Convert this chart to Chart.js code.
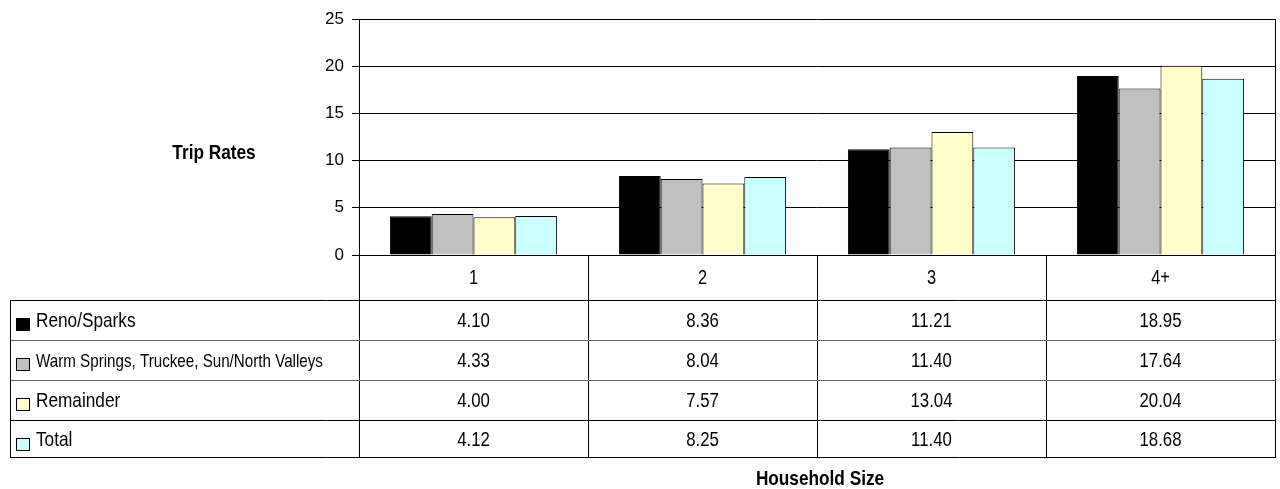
<!DOCTYPE html>
<html>
<head>
<meta charset="utf-8">
<script src="https://cdn.jsdelivr.net/npm/chart.js@4/dist/chart.umd.min.js"></script>
<style>
    html, body { margin: 0; padding: 0; background: #ffffff; }
    #wrap { width: 1280px; height: 489px; position: relative; }
</style>
</head>
<body>
<div id="wrap"><canvas id="tripChart"></canvas></div>
<script>
// Data trip rate per ukuran rumah tangga
const categories = ['1', '2', '3', '4+'];
const seriesNames = ['Reno/Sparks', 'Warm Springs, Truckee, Sun/North Valleys', 'Remainder', 'Total'];
const renoSparks = [4.10, 8.36, 11.21, 18.95];
const warmSprings = [4.33, 8.04, 11.40, 17.64];
const remainder = [4.00, 7.57, 13.04, 20.04];
const total = [4.12, 8.25, 11.40, 18.68];
const yTicks = [0, 5, 10, 15, 20, 25];

const seriesValues = [renoSparks, warmSprings, remainder, total];
const seriesColors = ['#000000', '#c0c0c0', '#ffffcc', '#ccffff'];

const FONT = "'Liberation Sans', Arial, sans-serif";
const NARROW = 0.82; // tidak ada Arial Narrow, jadi teks dipadatkan secara horizontal

// Baris tabel data di bawah chart
const table = {
    left: 10,
    headerBottom: 300,
    rowHeight: 40,
    bottom: 457
};

// Gambar teks dengan lebar dipadatkan (meniru font narrow)
function narrowText(ctx, text, x, y, align) {
    ctx.save();
    ctx.translate(x, y);
    ctx.scale(NARROW, 1);
    ctx.textAlign = align;
    ctx.textBaseline = 'alphabetic';
    ctx.fillText(text, 0, 0);
    ctx.restore();
}

// Plugin untuk menggambar tabel data, border kanan dan judul sumbu
const dataTablePlugin = {
    id: 'dataTable',
    afterDraw(chart) {
        const ctx = chart.ctx;
        const area = chart.chartArea;
        const xScale = chart.scales.x;
        const half = (xScale.getPixelForValue(1) - xScale.getPixelForValue(0)) / 2;

        ctx.save();
        ctx.strokeStyle = '#000000';
        ctx.lineWidth = 1;

        // border kanan plot
        ctx.beginPath();
        ctx.moveTo(area.right + 0.5, area.top);
        ctx.lineTo(area.right + 0.5, area.bottom);
        ctx.stroke();

        // garis vertikal kategori
        const bounds = [];
        for (let i = 0; i < categories.length; i++) {
            bounds.push(xScale.getPixelForValue(i) - half);
        }
        bounds.push(xScale.getPixelForValue(categories.length - 1) + half);
        bounds.forEach(function(x) {
            ctx.beginPath();
            ctx.moveTo(Math.round(x) + 0.5, area.bottom);
            ctx.lineTo(Math.round(x) + 0.5, table.bottom);
            ctx.stroke();
        });

        // garis horizontal tabel
        const rows = [table.headerBottom];
        for (let r = 1; r < seriesNames.length; r++) {
            rows.push(table.headerBottom + r * table.rowHeight);
        }
        rows.push(table.bottom);
        rows.forEach(function(y, idx) {
            ctx.strokeStyle = (idx === 1 || idx === 2) ? '#666666' : '#000000';
            ctx.beginPath();
            ctx.moveTo(table.left, y + 0.5);
            ctx.lineTo(Math.round(area.right) + 1, y + 0.5);
            ctx.stroke();
        });
        ctx.strokeStyle = '#000000';
        ctx.beginPath();
        ctx.moveTo(table.left + 0.5, table.headerBottom);
        ctx.lineTo(table.left + 0.5, table.bottom);
        ctx.stroke();

        // label kategori
        ctx.fillStyle = '#000000';
        ctx.font = '20px ' + FONT;
        categories.forEach(function(c, i) {
            narrowText(ctx, c, xScale.getPixelForValue(i), area.bottom + 29, 'center');
        });

        // isi tabel
        seriesNames.forEach(function(name, s) {
            const top = table.headerBottom + s * table.rowHeight;
            const rowH = (s === seriesNames.length - 1) ? (table.bottom - top) : table.rowHeight;
            const base = top + Math.round(rowH / 2) + 7;

            // kotak legenda
            ctx.fillStyle = seriesColors[s];
            ctx.fillRect(16, top + 18, 14, 13);
            ctx.strokeStyle = '#000000';
            ctx.strokeRect(16.5, top + 18.5, 13, 12);

            ctx.fillStyle = '#000000';
            ctx.font = (s === 1 ? '18.5px ' : '21px ') + FONT;
            narrowText(ctx, name, 36, base, 'left');

            ctx.font = '20.5px ' + FONT;
            seriesValues[s].forEach(function(v, i) {
                narrowText(ctx, v.toFixed(2), xScale.getPixelForValue(i), base, 'center');
            });
        });

        // judul sumbu
        ctx.font = 'bold 21px ' + FONT;
        narrowText(ctx, 'Trip Rates', 214, 159, 'center');
        narrowText(ctx, 'Household Size', 820, 485, 'center');

        ctx.restore();
    }
};

function initTripChart() {
    const ctx = document.getElementById('tripChart').getContext('2d');
    return new Chart(ctx, {
        type: 'bar',
        data: {
            labels: categories,
            datasets: seriesNames.map(function(name, s) {
                return {
                    label: name,
                    data: seriesValues[s],
                    backgroundColor: seriesColors[s],
                    borderColor: '#000000',
                    borderWidth: 1,
                    categoryPercentage: 0.73,
                    barPercentage: 1.0
                };
            })
        },
        options: {
            responsive: true,
            maintainAspectRatio: false,
            animation: false,
            layout: {
                padding: { left: 0, right: 5, top: 19, bottom: 234 }
            },
            plugins: {
                legend: { display: false },
                tooltip: { enabled: false }
            },
            scales: {
                x: {
                    display: false
                },
                y: {
                    min: 0,
                    max: 25,
                    afterBuildTicks: function(scale) {
                        scale.ticks = yTicks.map(function(v) { return { value: v }; });
                    },
                    afterFit: function(scale) {
                        scale.width = 359;
                    },
                    ticks: {
                        color: '#000000',
                        padding: 8,
                        font: { family: FONT, size: 17 }
                    },
                    grid: {
                        color: '#000000',
                        lineWidth: 1,
                        tickLength: 7
                    },
                    border: {
                        color: '#000000',
                        width: 1
                    }
                }
            }
        },
        plugins: [dataTablePlugin]
    });
}

initTripChart();
</script>
</body>
</html>
